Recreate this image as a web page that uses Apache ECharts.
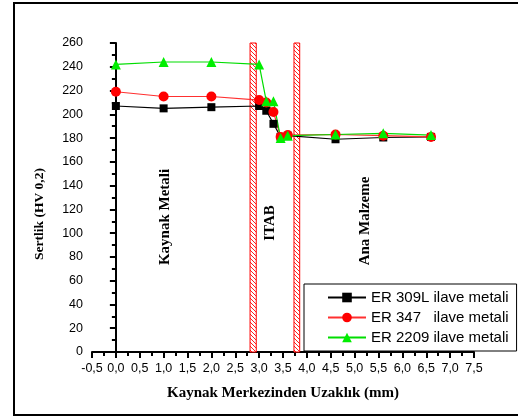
<!DOCTYPE html>
<html>
<head>
<meta charset="utf-8">
<script src="https://cdn.jsdelivr.net/npm/echarts@6/dist/echarts.min.js"></script>
<style>
  html, body { margin: 0; padding: 0; background: #fff; }
  #chart { width: 518px; height: 418px; }
</style>
</head>
<body>
<div id="chart"></div>
<script>
// Distance from weld centre (mm)
const distances = [0, 1, 2, 3, 3.15, 3.3, 3.45, 3.6, 4.6, 5.6, 6.6];
// Hardness (HV 0,2) for each filler metal
const er309L = [207, 205, 206, 207, 203, 192, 181, 182, 179, 180.5, 181];
const er347 = [219, 215, 215, 212, 210, 202, 181, 182.5, 183, 182, 181];
const er2209 = [242, 244, 244, 242, 211, 211, 180, 182, 183, 184, 182.5];
const seriesNames = ['ER 309L ilave metali', 'ER 347   ilave metali', 'ER 2209 ilave metali'];
// Fusion line / HAZ boundary bands: [from, to, height]
const boundaryBands = [[2.81, 2.94, 260], [3.73, 3.85, 260]];
// Zone labels: [text, x, y]
const zoneLabels = [['Kaynak Metali', 165, 217], ['ITAB', 270, 223], ['Ana Malzeme', 365, 221]];

function pairs(ys) { return distances.map((x, i) => [x, ys[i]]); }

// Red diagonal hatch pattern
const hatch = document.createElement('canvas');
hatch.width = 4; hatch.height = 4;
(function () {
  const c = hatch.getContext('2d');
  c.fillStyle = '#fff'; c.fillRect(0, 0, 4, 4);
  c.strokeStyle = '#ff2020'; c.lineWidth = 1;
  c.beginPath();
  c.moveTo(-1, -1); c.lineTo(5, 5);
  c.stroke();
})();

const chart = echarts.init(document.getElementById('chart'), null, { renderer: 'canvas' });
const fmt = v => v.toFixed(1).replace('.', ',');
const serif = 'Liberation Serif';
const sans = 'Liberation Sans';

const lineSeries = (name, data, color, lineColor, symbol, size) => ({
  name, type: 'line', data: pairs(data), symbol, symbolSize: size,
  itemStyle: { color }, lineStyle: { color: lineColor, width: 1.2 },
  z: 3, animation: false
});

chart.setOption({
  animation: false,
  grid: { left: 92, right: 44, top: 43, bottom: 66 },
  xAxis: {
    type: 'value', min: -0.5, max: 7.5, interval: 0.5,
    axisLine: { show: true, onZero: false, lineStyle: { color: '#000', width: 2 } },
    axisTick: { show: true, length: 6, lineStyle: { color: '#000', width: 2 } },
    minorTick: { show: true, splitNumber: 2, length: 4, lineStyle: { color: '#000', width: 2 } },
    splitLine: { show: false },
    axisLabel: { formatter: fmt, color: '#000', fontFamily: sans, fontSize: 12.5, margin: 10 },
    name: 'Kaynak Merkezinden Uzaklık (mm)', nameLocation: 'middle', nameGap: 34,
    nameTextStyle: { fontFamily: serif, fontWeight: 'bold', fontSize: 15, color: '#000' }
  },
  yAxis: {
    type: 'value', min: 0, max: 260, interval: 20,
    axisLine: { show: true, lineStyle: { color: '#000', width: 2 } },
    axisTick: { show: true, length: 6, lineStyle: { color: '#000', width: 2 } },
    minorTick: { show: true, splitNumber: 2, length: 4, lineStyle: { color: '#000', width: 2 } },
    splitLine: { show: false },
    axisLabel: { color: '#000', fontFamily: sans, fontSize: 12.5, margin: 9 }
  },
  legend: {
    data: seriesNames, orient: 'vertical', left: 304, top: 284,
    itemWidth: 38, itemHeight: 12, itemGap: 5,
    padding: [6, 8, 6, 23],
    borderColor: '#000', borderWidth: 1, borderRadius: 0, backgroundColor: '#fff',
    textStyle: { fontFamily: sans, fontSize: 15, color: '#000' }
  },
  series: [
    {
      type: 'custom', data: boundaryBands, z: 1, silent: true,
      renderItem: (params, api) => {
        const p0 = api.coord([api.value(0), api.value(2)]);
        const p1 = api.coord([api.value(1), 0]);
        return {
          type: 'rect',
          shape: { x: p0[0], y: p0[1], width: p1[0] - p0[0], height: p1[1] - p0[1] },
          style: { fill: { image: hatch, repeat: 'repeat' }, stroke: '#ff0000', lineWidth: 1 }
        };
      }
    },
    lineSeries(seriesNames[0], er309L, '#000', '#000', 'rect', 8),
    lineSeries(seriesNames[1], er347, '#ff0000', '#ff3030', 'circle', 10),
    lineSeries(seriesNames[2], er2209, '#00ee00', '#00dd00', 'triangle', 10)
  ],
  graphic: [
    { type: 'rect', shape: { x: 14, y: 3, width: 520, height: 412 },
      style: { fill: 'none', stroke: '#000', lineWidth: 2 }, silent: true },
    { type: 'text', x: 40, y: 214, rotation: Math.PI / 2,
      style: { text: 'Sertlik (HV 0,2)', font: 'bold 13.5px "Liberation Serif"', fill: '#000',
               align: 'center', verticalAlign: 'middle' } }
  ].concat(zoneLabels.map(([t, x, y]) => ({
    type: 'text', x, y, rotation: Math.PI / 2,
    style: { text: t, font: 'bold 15px "Liberation Serif"', fill: '#000',
             align: 'center', verticalAlign: 'middle' }
  })))
});
</script>
</body>
</html>
